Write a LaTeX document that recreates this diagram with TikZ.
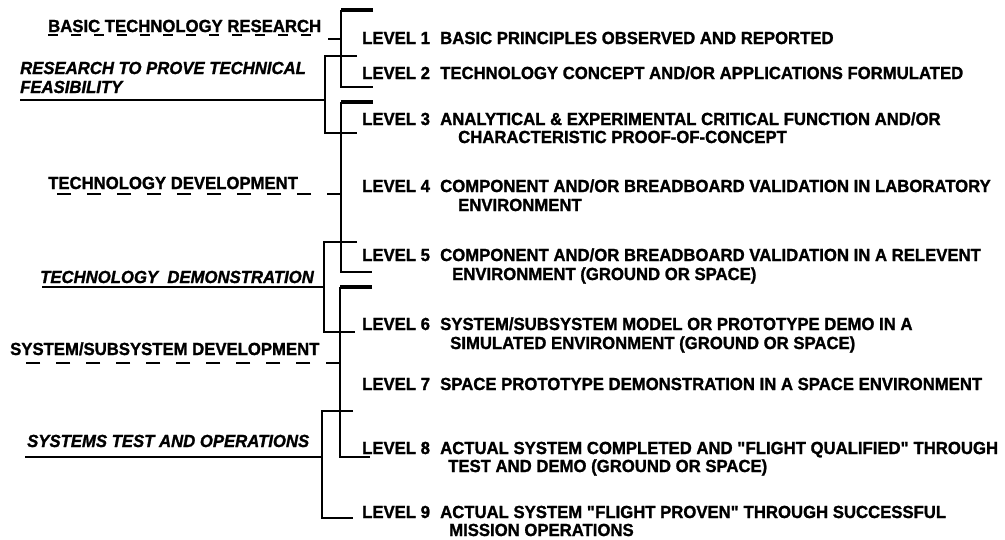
\documentclass[tikz,border=0pt]{standalone}
\usepackage{fontspec}
\setmainfont{Liberation Sans}[FakeStretch=0.955,
  BoldFeatures={FakeBold=1.3},
  BoldItalicFeatures={FakeBold=1.3}]
\begin{document}
\begin{tikzpicture}[x=1pt,y=-1pt,
  txt/.style={anchor=base west,inner sep=0pt,font=\fontsize{17.5}{18}\selectfont\bfseries},
  itxt/.style={txt,font=\fontsize{17.5}{18}\selectfont\bfseries\itshape},
  brk/.style={line width=2.4pt},
  brktop/.style={line width=3.2pt},
  uline/.style={line width=2pt},
  dline/.style={line width=2pt,dash pattern=on 14pt off 16pt},
  dlinesm/.style={line width=2pt,dash pattern=on 10pt off 13pt}]
\useasboundingbox (0,0) rectangle (1005,539);

% ---------- left-hand phase labels ----------
\node[txt]  (btr)  at (48,32)  {BASIC TECHNOLOGY RESEARCH};
\node[itxt] (rtp1) at (20,74)  {RESEARCH TO PROVE TECHNICAL};
\node[itxt] (rtp2) at (20,93)  {FEASIBILITY};
\node[txt]  (tdv)  at (48,189) {TECHNOLOGY DEVELOPMENT};
\node[itxt] (tdm)  at (40,283) {TECHNOLOGY\ \ DEMONSTRATION};
\node[txt]  (ssd)  at (10,355) {SYSTEM/SUBSYSTEM DEVELOPMENT};
\node[itxt] (sto)  at (27,447) {SYSTEMS TEST AND OPERATIONS};

% ---------- right-hand level texts ----------
\node[txt] (l1)  at (362,44)  {LEVEL 1};
\node[txt] (d1)  at (440,44)  {BASIC PRINCIPLES OBSERVED AND REPORTED};
\node[txt] (l2)  at (362,79)  {LEVEL 2};
\node[txt] (d2)  at (440,79)  {TECHNOLOGY CONCEPT AND/OR APPLICATIONS FORMULATED};
\node[txt] (l3)  at (362,125) {LEVEL 3};
\node[txt] (d3)  at (440,125) {ANALYTICAL \& EXPERIMENTAL CRITICAL FUNCTION AND/OR};
\node[txt] (d3b) at (458,143) {CHARACTERISTIC PROOF-OF-CONCEPT};
\node[txt] (l4)  at (362,192) {LEVEL 4};
\node[txt] (d4)  at (440,192) {COMPONENT AND/OR BREADBOARD VALIDATION IN LABORATORY};
\node[txt] (d4b) at (458,211) {ENVIRONMENT};
\node[txt] (l5)  at (362,261) {LEVEL 5};
\node[txt] (d5)  at (440,261) {COMPONENT AND/OR BREADBOARD VALIDATION IN A RELEVENT};
\node[txt] (d5b) at (452,280) {ENVIRONMENT (GROUND OR SPACE)};
\node[txt] (l6)  at (362,330) {LEVEL 6};
\node[txt] (d6)  at (440,330) {SYSTEM/SUBSYSTEM MODEL OR PROTOTYPE DEMO IN A};
\node[txt] (d6b) at (450,349) {SIMULATED ENVIRONMENT (GROUND OR SPACE)};
\node[txt] (l7)  at (362,390) {LEVEL 7};
\node[txt] (d7)  at (440,390) {SPACE PROTOTYPE DEMONSTRATION IN A SPACE ENVIRONMENT};
\node[txt] (l8)  at (362,454) {LEVEL 8};
\node[txt] (d8)  at (440,454) {ACTUAL SYSTEM COMPLETED AND \textquotedbl FLIGHT QUALIFIED\textquotedbl\ THROUGH};
\node[txt] (d8b) at (448,472) {TEST AND DEMO (GROUND OR SPACE)};
\node[txt] (l9)  at (362,518) {LEVEL 9};
\node[txt] (d9)  at (440,518) {ACTUAL SYSTEM \textquotedbl FLIGHT PROVEN\textquotedbl\ THROUGH SUCCESSFUL};
\node[txt] (d9b) at (449,536) {MISSION OPERATIONS};

% ---------- coordinates of the bracket system ----------
% bracket for levels 1-2
\coordinate (b1a) at (373,10);  \coordinate (b1t) at (341,10);
\coordinate (b1b) at (341,87);  \coordinate (b1c) at (373,87);
\coordinate (btrE) at (328,39); \coordinate (btrJ) at (341,39);
% bracket research to prove feasibility
\coordinate (ft) at (325,56);   \coordinate (ftR) at (357,56);
\coordinate (fb) at (325,133);  \coordinate (fbR) at (357,133);
\coordinate (fu0) at (20,100);  \coordinate (fuJ) at (325,100);
% bracket for levels 3-5
\coordinate (b2a) at (373,102); \coordinate (b2t) at (341,102);
\coordinate (b2b) at (341,272); \coordinate (b2c) at (372,272);
\coordinate (tdv0) at (48,194); \coordinate (tdvJ) at (341,194);
% bracket technology demonstration
\coordinate (dt) at (324,242);  \coordinate (dtR) at (357,242);
\coordinate (db) at (324,332);  \coordinate (dbR) at (355,332);
\coordinate (du0) at (42,287);  \coordinate (duJ) at (324,287);
% bracket for levels 6-8
\coordinate (b3a) at (372,287); \coordinate (b3t) at (340,287);
\coordinate (b3b) at (340,457); \coordinate (b3c) at (370,457);
\coordinate (ssd0) at (15,363); \coordinate (ssdJ) at (340,363);
% bracket systems test and operations
\coordinate (st) at (322,411);  \coordinate (stR) at (353,411);
\coordinate (sb) at (322,518);  \coordinate (sbR) at (353,518);
\coordinate (su0) at (25,457);  \coordinate (suJ) at (322,457);
% dashed underline of basic technology research
\coordinate (btr0) at (48,35);  \coordinate (btr1) at (322,35);

% ---------- drawing ----------
\draw[brktop] (b1a) -- (b1t);
\draw[brk] (b1t) -- (b1b) -- (b1c);
\draw[brk] (btrE) -- (btrJ);
\draw[dlinesm] (btr0) -- (btr1);

\draw[brk] (ftR) -- (ft) -- (fb) -- (fbR);
\draw[uline] (fu0) -- (fuJ);

\draw[brktop] (b2a) -- (b2t);
\draw[brk] (b2t) -- (b2b) -- (b2c);
\draw[dline] (tdvJ) -- (tdv0);

\draw[brk] (dtR) -- (dt) -- (db) -- (dbR);
\draw[uline] (du0) -- (duJ);

\draw[brktop] (b3a) -- (b3t);
\draw[brk] (b3t) -- (b3b) -- (b3c);
\draw[dline] (ssdJ) -- (ssd0);

\draw[brk] (stR) -- (st) -- (sb) -- (sbR);
\draw[uline] (su0) -- (suJ);
\end{tikzpicture}
\end{document}
